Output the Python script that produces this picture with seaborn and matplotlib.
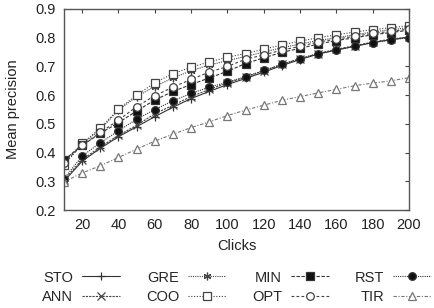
import numpy as np
import pandas as pd
import matplotlib
matplotlib.use("Agg")
import matplotlib.pyplot as plt
import seaborn as sns

clicks = [10, 20, 30, 40, 50, 60, 70, 80, 90, 100, 110, 120, 130, 140, 150, 160, 170, 180, 190, 200]

sto = [0.300, 0.370, 0.415, 0.455, 0.490, 0.525, 0.558, 0.588, 0.613, 0.637, 0.658, 0.680, 0.703, 0.724, 0.743, 0.757, 0.770, 0.783, 0.793, 0.802]
ann = [0.305, 0.375, 0.420, 0.460, 0.495, 0.535, 0.565, 0.595, 0.620, 0.643, 0.663, 0.685, 0.707, 0.727, 0.745, 0.760, 0.772, 0.785, 0.795, 0.803]
gre = [0.370, 0.430, 0.480, 0.548, 0.595, 0.630, 0.660, 0.685, 0.705, 0.720, 0.735, 0.750, 0.765, 0.778, 0.790, 0.800, 0.810, 0.820, 0.828, 0.835]
coo = [0.355, 0.432, 0.485, 0.552, 0.600, 0.643, 0.675, 0.697, 0.716, 0.732, 0.745, 0.760, 0.775, 0.788, 0.800, 0.810, 0.820, 0.828, 0.835, 0.842]
mnn = [0.374, 0.425, 0.467, 0.504, 0.545, 0.583, 0.613, 0.637, 0.660, 0.683, 0.710, 0.730, 0.749, 0.763, 0.778, 0.790, 0.800, 0.810, 0.818, 0.826]
opt = [0.365, 0.425, 0.470, 0.513, 0.560, 0.598, 0.628, 0.655, 0.680, 0.700, 0.725, 0.740, 0.757, 0.770, 0.785, 0.795, 0.805, 0.815, 0.822, 0.830]
rst = [0.309, 0.388, 0.434, 0.476, 0.516, 0.550, 0.580, 0.606, 0.628, 0.645, 0.664, 0.686, 0.707, 0.727, 0.745, 0.757, 0.770, 0.783, 0.792, 0.800]
tir = [0.298, 0.329, 0.354, 0.383, 0.412, 0.440, 0.464, 0.487, 0.507, 0.529, 0.548, 0.565, 0.582, 0.595, 0.608, 0.620, 0.633, 0.642, 0.650, 0.661]

names = ["STO", "ANN", "GRE", "COO", "MIN", "OPT", "RST", "TIR"]
series = [sto, ann, gre, coo, mnn, opt, rst, tir]

# gnuplot-ish point/line styles
styles = {
    "STO": dict(marker="+", ls="-", mfc="#333333", color="#333333"),
    "ANN": dict(marker="x", ls=(0, (2, 1)), mfc="#333333", color="#444444"),
    "GRE": dict(marker=(6, 2, 0), ls=(0, (1, 1)), mfc="#333333", color="#444444"),
    "COO": dict(marker="s", ls=(0, (1, 1.5)), mfc="white", color="#444444"),
    "MIN": dict(marker="s", ls=(0, (3, 1.5)), mfc="#111111", color="#333333"),
    "OPT": dict(marker="o", ls=(0, (2.5, 2)), mfc="white", color="#444444"),
    "RST": dict(marker="o", ls=(0, (1, 1)), mfc="#111111", color="#333333"),
    "TIR": dict(marker="^", ls=(0, (3, 1.5, 1, 1.5)), mfc="white", color="#777777"),
}

sns.set_style("white")
plt.rcParams["font.family"] = ["Liberation Sans", "DejaVu Sans"]
plt.rcParams["font.size"] = 10

fig, ax = plt.subplots(figsize=(4.34, 3.08), dpi=100)
fig.subplots_adjust(left=64/434, right=409/434, top=1-9/308, bottom=1-210/308)

for name, vals in zip(names, series):
    st = styles[name]
    sns.lineplot(x=clicks, y=vals, ax=ax, label=name, color=st["color"],
                 linestyle=st["ls"], marker=st["marker"], markersize=5.5,
                 markerfacecolor=st["mfc"], markeredgecolor=st["color"],
                 markeredgewidth=0.9, linewidth=0.8)

ax.set_xlim(10, 200)
ax.set_ylim(0.2, 0.9)
ax.set_xticks(np.arange(20, 201, 20))
ax.set_yticks(np.arange(0.2, 0.91, 0.1))
ax.set_yticklabels([f"{v:.1f}" for v in np.arange(0.2, 0.91, 0.1)])
ax.tick_params(direction="in", length=3, width=0.8, top=True, right=True,
               pad=6, colors="#444444", labelcolor="#222222", labelsize=10.5)
for s in ax.spines.values():
    s.set_color("#555555")
    s.set_linewidth(1.0)

ax.set_xlabel("Clicks", labelpad=5, color="#222222", fontsize=10.5)
ax.set_ylabel("Mean precision", labelpad=11, color="#222222", fontsize=10.5)

ax.legend(loc="center", bbox_to_anchor=(236.5/434, 1-287.5/308),
          bbox_transform=fig.transFigure, ncol=4, frameon=False,
          markerfirst=False, handlelength=2.6, handletextpad=0.6,
          columnspacing=1.8, labelspacing=0.4, borderpad=0, fontsize=10.5)

fig.savefig("out.png", dpi=100)
